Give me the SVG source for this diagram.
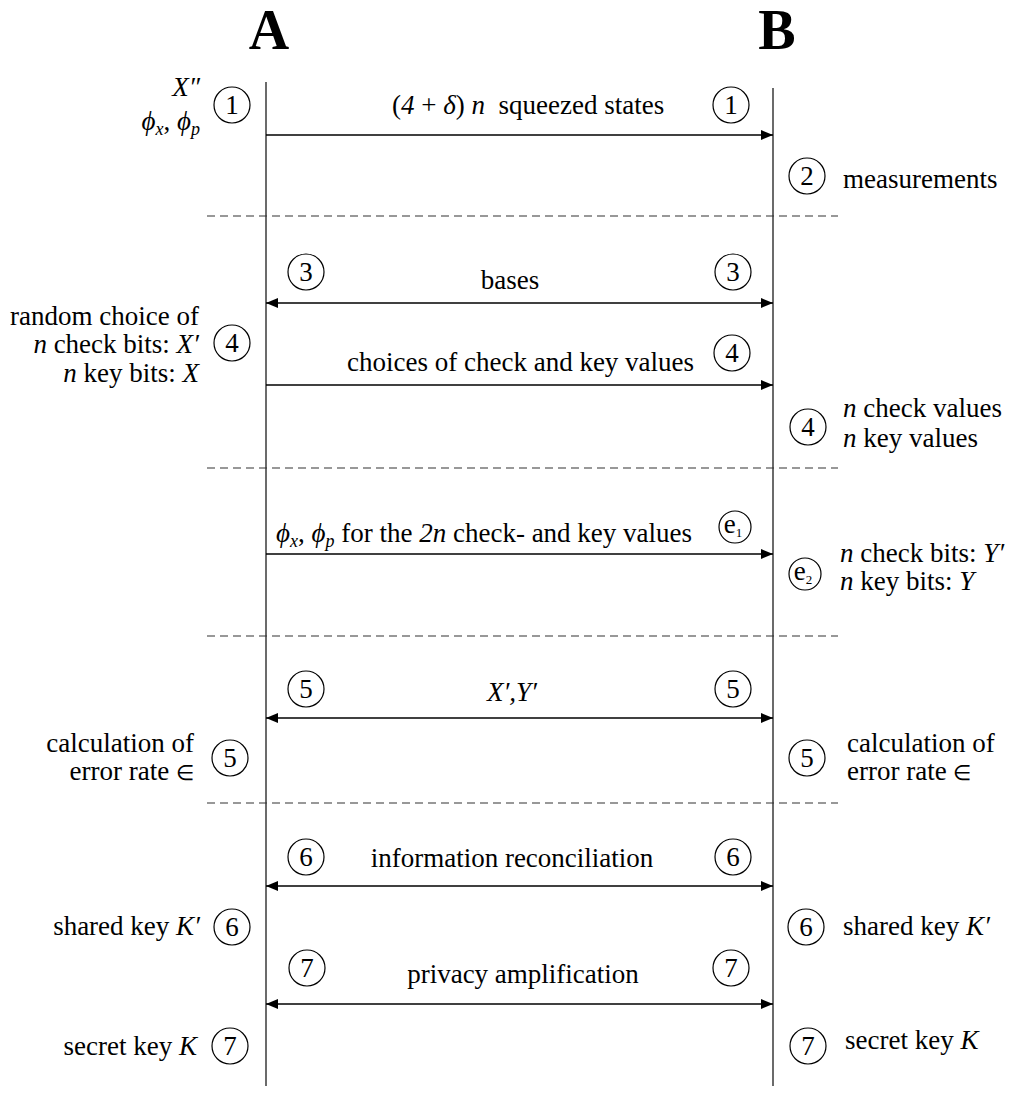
<svg xmlns="http://www.w3.org/2000/svg" width="1014" height="1095" viewBox="0 0 1014 1095">
<style>
text{font-family:"Liberation Serif","Times New Roman",serif;font-size:27px;fill:#000}
.hdr{font-size:56px;font-weight:bold}
.num{font-size:27px;text-anchor:middle}
.r{text-anchor:end}
.m{text-anchor:middle}
.i{font-style:italic}
.sub{font-size:18px;font-style:italic}
.life{stroke:#3a3a3a;stroke-width:1.5}
.msg{stroke:#000;stroke-width:1.3;fill:none}
.dash{stroke:#333;stroke-width:1.2;stroke-dasharray:8 5}
circle{fill:none;stroke:#000;stroke-width:1.2}
</style>
<defs>
<marker id="ah" markerWidth="12" markerHeight="10" refX="12" refY="5" orient="auto-start-reverse" markerUnits="userSpaceOnUse">
<path d="M0,0 L12,5 L0,10 Z" fill="#000"/>
</marker>
</defs>
<rect width="1014" height="1095" fill="#fff"/>
<g id="lifeline-A"><text class="hdr m" x="269" y="49">A</text><line class="life" x1="266" y1="82" x2="266" y2="1086"/></g>
<g id="lifeline-B"><text class="hdr m" x="777" y="49">B</text><line class="life" x1="773" y1="88" x2="773" y2="1086"/></g>
<g id="separators">
<line class="dash" x1="207" y1="216" x2="838" y2="216"/>
<line class="dash" x1="207" y1="468" x2="838" y2="468"/>
<line class="dash" x1="207" y1="636" x2="838" y2="636"/>
<line class="dash" x1="207" y1="803" x2="838" y2="803"/>
</g>
<g id="connectors">
<line class="msg" x1="266" y1="135" x2="773" y2="135" marker-end="url(#ah)"/>
<line class="msg" x1="266" y1="303" x2="773" y2="303" marker-start="url(#ah)" marker-end="url(#ah)"/>
<line class="msg" x1="266" y1="385" x2="773" y2="385" marker-end="url(#ah)"/>
<line class="msg" x1="266" y1="554" x2="773" y2="554" marker-end="url(#ah)"/>
<line class="msg" x1="266" y1="718" x2="773" y2="718" marker-start="url(#ah)" marker-end="url(#ah)"/>
<line class="msg" x1="266" y1="886" x2="773" y2="886" marker-start="url(#ah)" marker-end="url(#ah)"/>
<line class="msg" x1="266" y1="1004" x2="773" y2="1004" marker-start="url(#ah)" marker-end="url(#ah)"/>
</g>
<g id="step1-A"><circle cx="232" cy="105" r="18"/><text class="num" x="232" y="114">1</text>
<text class="r i" x="200" y="96">X″</text>
<text class="r" x="200" y="130"><tspan class="i">ϕ</tspan><tspan class="sub" dy="5">x</tspan><tspan dy="-5">, </tspan><tspan class="i">ϕ</tspan><tspan class="sub" dy="5">p</tspan></text></g>
<g id="msg1"><text x="392" y="114" xml:space="preserve">(<tspan class="i">4</tspan> + <tspan class="i">δ</tspan>) <tspan class="i">n</tspan>  squeezed states</text>
<circle cx="731" cy="105" r="18"/><text class="num" x="731" y="114">1</text></g>
<g id="step2-B"><circle cx="807" cy="176" r="18"/><text class="num" x="807" y="185">2</text><text x="843" y="188">measurements</text></g>
<g id="msg3"><circle cx="306" cy="272" r="18"/><text class="num" x="306" y="281">3</text>
<text class="m" x="510" y="289">bases</text>
<circle cx="733" cy="272" r="18"/><text class="num" x="733" y="281">3</text></g>
<g id="step4-A"><text class="r" x="199" y="325">random choice of</text>
<text class="r" x="199" y="353"><tspan class="i">n</tspan> check bits: <tspan class="i">X′</tspan></text>
<text class="r" x="199" y="382"><tspan class="i">n</tspan> key bits: <tspan class="i">X</tspan></text>
<circle cx="232" cy="343" r="18"/><text class="num" x="232" y="352">4</text></g>
<g id="msg4"><text x="347" y="371">choices of check and key values</text>
<circle cx="732" cy="353" r="18"/><text class="num" x="732" y="362">4</text></g>
<g id="step4-B"><circle cx="808" cy="427" r="18"/><text class="num" x="808" y="436">4</text>
<text x="843" y="417"><tspan class="i">n</tspan> check values</text>
<text x="843" y="447"><tspan class="i">n</tspan> key values</text></g>
<g id="msgE1"><text x="276" y="542"><tspan class="i">ϕ</tspan><tspan class="sub" dy="5">x</tspan><tspan dy="-5">, </tspan><tspan class="i">ϕ</tspan><tspan class="sub" dy="5">p</tspan><tspan dy="-5"> for the </tspan><tspan class="i">2n</tspan> check- and key values</text>
<circle cx="735" cy="527" r="16"/><text x="733" y="533" font-size="21" text-anchor="middle">e<tspan font-size="13" dy="4">1</tspan></text></g>
<g id="stepE2-B"><circle cx="805" cy="574" r="16"/><text x="803" y="580" font-size="21" text-anchor="middle">e<tspan font-size="13" dy="4">2</tspan></text>
<text x="840" y="562"><tspan class="i">n</tspan> check bits: <tspan class="i">Y′</tspan></text>
<text x="840" y="590"><tspan class="i">n</tspan> key bits: <tspan class="i">Y</tspan></text></g>
<g id="msg5"><circle cx="306" cy="689" r="18"/><text class="num" x="306" y="698">5</text>
<text class="m i" x="512" y="701">X′,Y′</text>
<circle cx="733" cy="689" r="18"/><text class="num" x="733" y="698">5</text></g>
<g id="step5-A"><text class="r" x="194" y="752">calculation of</text><text class="r" x="194" y="780">error rate <tspan font-size="21">∈</tspan></text>
<circle cx="230" cy="758" r="18"/><text class="num" x="230" y="767">5</text></g>
<g id="step5-B"><circle cx="807" cy="758" r="18"/><text class="num" x="807" y="767">5</text>
<text x="847" y="752">calculation of</text><text x="847" y="780">error rate <tspan font-size="21">∈</tspan></text></g>
<g id="msg6"><circle cx="306" cy="857" r="18"/><text class="num" x="306" y="866">6</text>
<text class="m" x="512" y="867">information reconciliation</text>
<circle cx="733" cy="857" r="18"/><text class="num" x="733" y="866">6</text></g>
<g id="step6-A"><text class="r" x="200" y="935">shared key <tspan class="i">K′</tspan></text>
<circle cx="232" cy="927" r="18"/><text class="num" x="232" y="936">6</text></g>
<g id="step6-B"><circle cx="806" cy="927" r="18"/><text class="num" x="806" y="936">6</text>
<text x="843" y="935">shared key <tspan class="i">K′</tspan></text></g>
<g id="msg7"><circle cx="307" cy="968" r="18"/><text class="num" x="307" y="977">7</text>
<text class="m" x="523" y="983">privacy amplification</text>
<circle cx="731" cy="968" r="18"/><text class="num" x="731" y="977">7</text></g>
<g id="step7-A"><text class="r" x="197" y="1055">secret key <tspan class="i">K</tspan></text>
<circle cx="230" cy="1046" r="18"/><text class="num" x="230" y="1055">7</text></g>
<g id="step7-B"><circle cx="808" cy="1046" r="18"/><text class="num" x="808" y="1055">7</text>
<text x="845" y="1049">secret key <tspan class="i">K</tspan></text></g>
</svg>
